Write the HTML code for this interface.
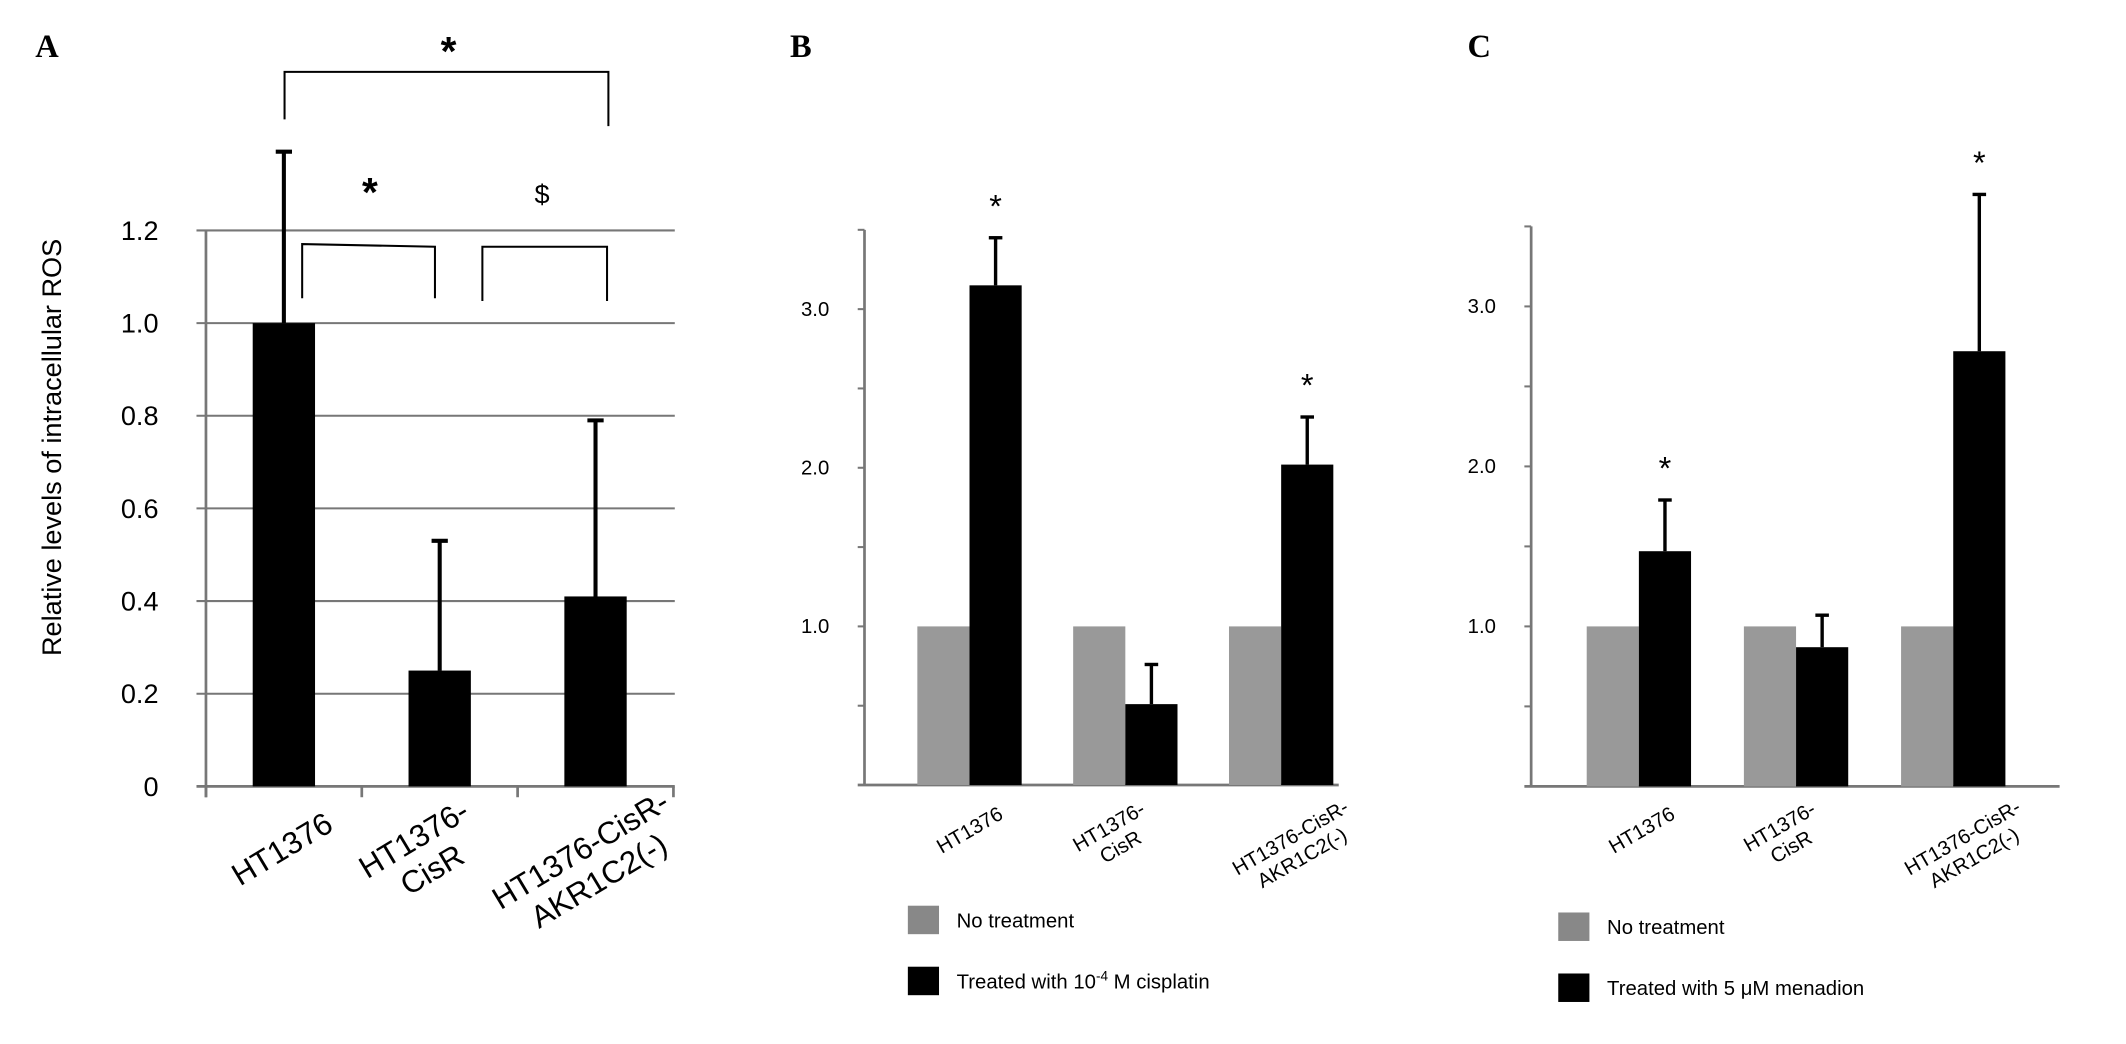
<!DOCTYPE html>
<html><head><meta charset="utf-8"><style>
html,body{margin:0;padding:0;background:#fff;}
svg{display:block;font-family:"Liberation Sans",sans-serif;}
</style></head><body>
<svg id="fig" width="2126" height="1044" viewBox="0 0 1569 770" preserveAspectRatio="none" xmlns="http://www.w3.org/2000/svg"></svg>
<script>
const cats = ["HT1376","HT1376-CisR","HT1376-CisR-AKR1C2(-)"];
const aVals = [1.0, 0.25, 0.41];
const aErr = [1.37, 0.53, 0.79];
const aTicks = ["0","0.2","0.4","0.6","0.8","1.0","1.2"];
const bCtrl = [1,1,1];
const bTreat = [3.15, 0.51, 2.02];
const bErr = [3.45, 0.76, 2.32];
const cCtrl = [1,1,1];
const cTreat = [1.47, 0.87, 2.72];
const cErr = [1.79, 1.07, 3.70];
const bcTicks = ["1.0","2.0","3.0"];

const NS="http://www.w3.org/2000/svg";
const svg=document.getElementById('fig');
function mk(tag,attrs,parent,txt){const e=document.createElementNS(NS,tag);for(const k in attrs)e.setAttribute(k,attrs[k]);if(txt!==undefined)e.textContent=txt;(parent||svg).appendChild(e);return e;}
function line(x1,y1,x2,y2,stroke,w,name){const e=mk('line',{x1,y1,x2,y2,stroke,'stroke-width':w});

return e;}
function label(x,y,t,size,anchor,name,extra){const e=mk('text',Object.assign({x,y,'font-size':size,'text-anchor':anchor||'start',fill:'#000'},extra||{}),svg,t);

return e;}
function rect(x,y,w,h,fill,name){const e=mk('rect',{x,y,width:w,height:h,fill});

return e;}
// centered multi-line rotated label; (x,y) = visual center of block
function catLabel(x,y,lines,size,rot,name){const g=mk('text',{transform:`translate(${x},${y}) rotate(${rot})`,'font-size':size,'text-anchor':'middle',fill:'#000'});


const lh=size*1.15;const start=-(lines.length-1)*lh/2+size*0.35;
lines.forEach((l,i)=>{mk('tspan',{x:0,y:start+i*lh},g,l);});}

// Panel A
label(26,42,"A",24,'start','panel-a-label',{'font-family':'Liberation Serif','font-weight':'bold'});
const aX0=152,aY0=580,aPer=341.7,aGroupW=115;
const ay=v=>aY0-v*aPer;
const ax=i=>aX0+aGroupW*(i+0.5);
aTicks.forEach((t,i)=>{const v=i*0.2;const y=ay(v);
 if(i>0)line(145,y,498,y,'#777',1.5,'grid-line-a');
 label(117,y+7,t,20,'end','y-tick-label-a');});
line(145,aY0,498,aY0,'#777',2,'x-axis-a');
line(aX0,ay(1.2),aX0,aY0+8,'#777',2,'y-axis-a');
for(let i=0;i<=3;i++)line(aX0+aGroupW*i,aY0,aX0+aGroupW*i,aY0+8,'#777',2,'x-tick-a');
aVals.forEach((v,i)=>{const c=ax(i);
 rect(c-23,ay(v),46,aY0-ay(v),'#000','bar-a-'+i);
 line(c,ay(v),c,ay(aErr[i]),'#000',3,'error-bar-a');
 line(c-6,ay(aErr[i]),c+6,ay(aErr[i]),'#000',3,'error-cap-a');});
const yl=label(0,0,"Relative levels of intracellular ROS",20,'middle','y-axis-title-a');
yl.setAttribute('transform','translate(45,330) rotate(-90)');
catLabel(208,626,["HT1376"],23,-31,'x-label-a-0');
catLabel(312,630,["HT1376-","CisR"],23,-31,'x-label-a-1');
catLabel(435,638,["HT1376-CisR-","AKR1C2(-)"],23,-31,'x-label-a-2');
const br=mk('path',{d:"M210,88 L210,53 L449,53 L449,93",fill:'none',stroke:'#000','stroke-width':1.5});

const br2=mk('path',{d:"M223,220 L223,180 L321,182 L321,220",fill:'none',stroke:'#000','stroke-width':1.5});

const br3=mk('path',{d:"M356,222 L356,182 L448,182 L448,222",fill:'none',stroke:'#000','stroke-width':1.5});

label(331,48,"*",30,'middle','sig-star-outer',{'font-weight':'bold'});
label(273,152,"*",30,'middle','sig-star-left',{'font-weight':'bold'});
label(400,150,"$",20,'middle','sig-dollar');

function grouped(p,X0,Y0,per,xEnd,bw,gW,firstOff,ctrl,treat,err,stars,legX,legY,labOff){
 const y=v=>Y0-v*per;
 line(X0-5,Y0,xEnd,Y0,'#777',2,'x-axis-'+p);
 line(X0,Y0,X0,y(3.5),'#777',2,'y-axis-'+p);
 for(let k=1;k<=7;k++)line(X0-5,y(k*0.5),X0,y(k*0.5),'#777',1.5,'y-tick-'+p);
 bcTicks.forEach((t,i)=>label(X0-26,y(i+1)+5,t,15,'end','y-tick-label-'+p));
 cats.forEach((c,i)=>{const gx=X0+firstOff+gW*i;
  rect(gx,y(ctrl[i]),bw,Y0-y(ctrl[i]),'#999','bar-'+p+'-control-'+i);
  rect(gx+bw,y(treat[i]),bw,Y0-y(treat[i]),'#000','bar-'+p+'-treated-'+i);
  const c2=gx+bw*1.5;
  line(c2,y(treat[i]),c2,y(err[i]),'#000',2.5,'error-bar-'+p);
  line(c2-5,y(err[i]),c2+5,y(err[i]),'#000',2.5,'error-cap-'+p);
  if(stars[i])label(c2,y(err[i])-15,"*",24,'middle','sig-star-'+p);
 });
 const gc=i=>X0+firstOff+bw+gW*i;
 catLabel(gc(0)+labOff[0],612,["HT1376"],15,-30,'x-label-'+p+'-0');
 catLabel(gc(1)+labOff[1],617,["HT1376-","CisR"],15,-30,'x-label-'+p+'-1');
 catLabel(gc(2)+labOff[2],625,["HT1376-CisR-","AKR1C2(-)"],15,-30,'x-label-'+p+'-2');
 rect(legX,legY,23,21,'#888','legend-swatch-'+p+'-control');
 label(legX+36,legY+16,"No treatment",15,'start','legend-text-'+p+'-control');
 rect(legX,legY+45,23,21,'#000','legend-swatch-'+p+'-treated');
}
label(583,42,"B",24,'start','panel-b-label',{'font-family':'Liberation Serif','font-weight':'bold'});
grouped('b',638,579,117,988,38.5,115,39,bCtrl,bTreat,bErr,[1,0,1],670,668,[0,-8,11]);
const lt=label(706,729,"",15,'start','legend-text-b-treated');
mk('tspan',{},lt,"Treated with 10");mk('tspan',{dy:-6,'font-size':10},lt,"-4");mk('tspan',{dy:6},lt," M cisplatin");

label(1083,42,"C",24,'start','panel-c-label',{'font-family':'Liberation Serif','font-weight':'bold'});
grouped('c',1130,580,118,1520,38.5,116,41,cCtrl,cTreat,cErr,[1,0,1],1150,673,[2,-8,11]);
label(1186,734,"Treated with 5 μM menadion",15,'start','legend-text-c-treated');
</script>
</body></html>
